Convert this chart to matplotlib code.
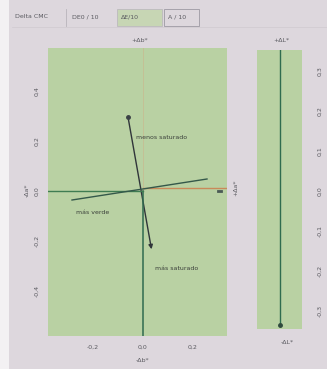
import matplotlib
matplotlib.use("Agg")
import matplotlib.pyplot as plt
from matplotlib.patches import Rectangle, FancyArrowPatch

W, H = 327, 369
# ---- data ----
ab_xticks = [-0.2, 0.0, 0.2]
ab_yticks = [-0.4, -0.2, 0.0, 0.2, 0.4]
l_yticks = [-0.3, -0.2, -0.1, 0.0, 0.1, 0.2, 0.3]
sat_start = [-0.06, 0.296]      # menos saturado point
sat_end = [0.036, -0.244]       # más saturado arrow tip
verde_x = [-0.284, 0.256]
verde_y = [-0.036, 0.048]
dL_value = -0.335
tabs = ["Delta CMC", "DE0 / 10", "ΔE/10", "A / 10"]

def fmt(v):
    return ("%.1f" % v).replace(".", ",")

bg = "#ddd7dd"
green = "#b9d1a3"
txt = "#5a5a60"

fig = plt.figure(figsize=(W / 100, H / 100), dpi=100, facecolor=bg)

def px_axes(x0, y0, x1, y1):
    return fig.add_axes([x0 / W, 1 - y1 / H, (x1 - x0) / W, (y1 - y0) / H])

# left white strip of photo
fig.patches.append(Rectangle((0, 0), 9 / W, 1, transform=fig.transFigure,
                             facecolor="#f3f1f3", edgecolor="none"))
# tab bar
fig.text(15 / W, 1 - 17 / H, tabs[0], fontsize=4.5, color=txt, va="center")
fig.lines.append(plt.Line2D([66 / W, 66 / W], [1 - 26 / H, 1 - 9 / H],
                            transform=fig.transFigure, color="#b8b4bb", lw=0.6))
fig.text(72 / W, 1 - 17 / H, tabs[1], fontsize=4.5, color=txt, va="center")
fig.patches.append(Rectangle((117 / W, 1 - 26 / H), 45 / W, 17 / H, transform=fig.transFigure,
                             facecolor="#c7d6b4", edgecolor="#b8b4bb", lw=0.5))
fig.text(121 / W, 1 - 17 / H, tabs[2], fontsize=4.5, color=txt, va="center")
fig.patches.append(Rectangle((164 / W, 1 - 26 / H), 35 / W, 17 / H, transform=fig.transFigure,
                             facecolor="none", edgecolor="#9d99a3", lw=0.6))
fig.text(168 / W, 1 - 17 / H, tabs[3], fontsize=4.5, color=txt, va="center")
fig.lines.append(plt.Line2D([12 / W, 1], [1 - 27 / H, 1 - 27 / H],
                            transform=fig.transFigure, color="#cfc9d0", lw=0.5))

# ---- main a/b plot ----
ax = px_axes(48, 48, 227, 336)
ax.set_facecolor(green)
ax.set_xlim(-0.38, 0.336)
ax.set_ylim(-0.58, 0.572)
for s in ax.spines.values():
    s.set_visible(False)
ax.set_xticks(ab_xticks)
ax.set_xticklabels([fmt(v) for v in ab_xticks], fontsize=4.5, color=txt)
ax.set_yticks(ab_yticks)
ax.set_yticklabels([fmt(v) for v in ab_yticks], fontsize=4.5, color=txt, rotation=90, va="center")
ax.tick_params(length=0, pad=6)

# axes lines
ax.plot([0, 0], [0, 0.572], color="#c9b98f", lw=0.7, alpha=0.7)
ax.plot([0, 0], [-0.58, 0], color="#2f6b4f", lw=1.1)
ax.plot([-0.38, 0], [0, 0], color="#3f7c52", lw=1.0)
ax.plot([0, 0.336], [0.012, 0.012], color="#c98a5a", lw=1.0)
ax.plot([0.30, 0.31], [0.0, 0.0], color="#4a5a55", lw=2.0)
# más verde line
ax.plot(verde_x, verde_y, color="#34584a", lw=1.0)
# saturation vector
ax.plot(sat_start[0], sat_start[1], "o", color="#3a4045", ms=2.5)
ax.add_patch(FancyArrowPatch(tuple(sat_start), tuple(sat_end), arrowstyle="-|>",
                             mutation_scale=6, color="#30353a", lw=1.0))
ax.text(-0.03, 0.215, "menos saturado", fontsize=4.5, color="#3a3f3a", va="center")
ax.text(-0.27, -0.085, "más verde", fontsize=4.5, color="#3a3f3a", va="center")
ax.text(0.048, -0.31, "más saturado", fontsize=4.5, color="#3a3f3a", va="center")

fig.text(140 / W, 1 - 40 / H, "+Δb*", fontsize=4.5, color=txt, ha="center", va="center")
fig.text(143 / W, 1 - 360 / H, "-Δb*", fontsize=4.5, color=txt, ha="center", va="center")
fig.text(27 / W, 1 - 190 / H, "-Δa*", fontsize=4.5, color=txt, ha="center", va="center", rotation=90)
fig.text(236 / W, 1 - 188 / H, "+Δa*", fontsize=4.5, color=txt, ha="center", va="center", rotation=90)

# ---- right L plot ----
axl = px_axes(257, 50, 302, 329)
axl.set_facecolor(green)
axl.set_xlim(-0.056, 0.056)
axl.set_ylim(-0.345, 0.352)
for s in axl.spines.values():
    s.set_visible(False)
axl.set_xticks([])
axl.yaxis.tick_right()
axl.set_yticks(l_yticks)
axl.set_yticklabels([fmt(v) for v in l_yticks], fontsize=4.5, color=txt, rotation=90, va="center")
axl.tick_params(length=0, pad=11)
axl.plot([0, 0], [0.352, dL_value], color="#2f6b4f", lw=1.0)
axl.plot(0, dL_value, "o", color="#2f4a3d", ms=2.5)

fig.text(281 / W, 1 - 40 / H, "+ΔL*", fontsize=4.5, color=txt, ha="center", va="center")
fig.text(287 / W, 1 - 343 / H, "-ΔL*", fontsize=4.5, color=txt, ha="center", va="center")

fig.savefig("out.png", dpi=100, facecolor=bg)
